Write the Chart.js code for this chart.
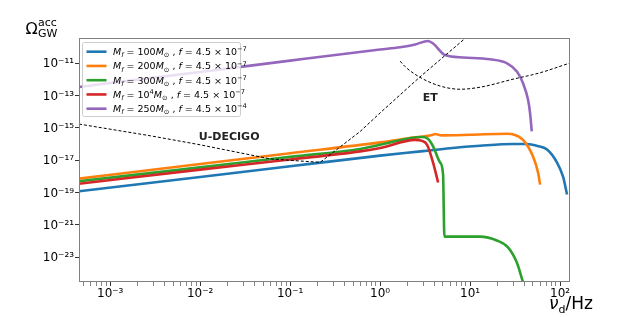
<!DOCTYPE html>
<html>
<head>
<meta charset="utf-8">
<script src="https://cdn.jsdelivr.net/npm/chart.js@4/dist/chart.umd.min.js"></script>
<style>
  html, body { margin: 0; padding: 0; background: #fff; }
  canvas { display: block; }
</style>
</head>
<body>
<canvas id="grafico" width="634" height="317"></canvas>
<script>
// Curvas (nu_d en Hz, Omega_GW^acc)
const nuAzul = [4.5e-4, 0.01, 0.1, 1, 3, 6.0, 12.9, 30, 43, 56, 71.7, 92.6, 108, 119.6];
const omegaAzul = [1.2e-19, 9.2e-19, 4.2e-18, 1.9e-17, 3.6e-17, 5.5e-17, 7.8e-17, 1.0e-16, 1.0e-16, 7.5e-17, 4.5e-17, 7.0e-18, 9.5e-19, 7.6e-20];

const nuNaranja = [4.5e-4, 0.01, 0.1, 1, 2, 3.88, 4.08, 4.85, 10, 25.6, 31.6, 38.8, 50.1, 57, 60];
const omegaNaranja = [7.2e-19, 5.8e-18, 2.7e-17, 1.26e-16, 2.2e-16, 3.7e-16, 4.1e-16, 3.4e-16, 3.7e-16, 4.3e-16, 3.6e-16, 1.8e-16, 1.7e-17, 1.7e-18, 3.1e-19];

const nuVerde = [4.5e-4, 0.01, 0.1, 0.6, 1, 2.9, 3.4, 3.88, 4.64, 5.01, 5.18, 12.9, 19.8, 26.4, 33, 38.8];
const omegaVerde = [5.0e-19, 3.6e-18, 1.6e-17, 4.9e-17, 8.9e-17, 2.7e-16, 2.1e-16, 7.1e-17, 7.1e-18, 1.3e-18, 1.9e-22, 1.9e-22, 1.1e-22, 4.1e-23, 4.9e-24, 2.9e-25];

const nuRojo = [4.5e-4, 0.01, 0.1, 0.6, 1, 2.45, 2.86, 3.33, 3.88, 4.41];
const omegaRojo = [3.5e-19, 2.6e-18, 1.1e-17, 3.5e-17, 5.6e-17, 1.8e-16, 1.6e-16, 8.9e-17, 7.1e-18, 4.2e-19];

const nuMorado = [4.5e-4, 1e-3, 0.01, 0.1, 1, 1.67, 2.45, 3.41, 3.88, 5.27, 8.36, 16.7, 25.8, 33.3, 38.8, 44.1, 46.4, 48.5];
const omegaMorado = [3.3e-13, 5.8e-13, 2.8e-12, 1.4e-11, 6.8e-11, 9.5e-11, 1.4e-10, 2.3e-10, 1.6e-10, 3.1e-11, 2.2e-11, 1.7e-11, 9.6e-12, 2.9e-12, 5.6e-13, 5.3e-14, 8.3e-15, 5.9e-16];

// Curvas de sensibilidad (líneas discontinuas)
const nuDecigo = [4.5e-4, 2.8e-3, 0.01, 0.06, 0.215, 0.6, 1, 2.78, 8.8];
const omegaDecigo = [1.7e-15, 3.2e-16, 8.9e-17, 1.2e-17, 7.3e-18, 5.9e-16, 8.3e-15, 1.4e-12, 3.3e-10];

const nuET = [1.67, 1.9, 2.78, 4.64, 7.74, 12.9, 30, 60, 129];
const omegaET = [1.3e-11, 5.9e-12, 1.3e-12, 3.8e-13, 2.4e-13, 3.2e-13, 1.0e-12, 2.5e-12, 1.0e-11];

// Leyenda
const masas = ["100", "200", "300", "10^4", "250"];
const frecuencias = ["4.5 × 10^-7", "4.5 × 10^-7", "4.5 × 10^-7", "4.5 × 10^-7", "4.5 × 10^-4"];
const colores = ["#1f77b4", "#ff7f0e", "#2ca02c", "#d62728", "#9467bd"];

// Marcas de los ejes
const ticksX = [1e-3, 1e-2, 1e-1, 1, 10, 100];
const ticksY = [1e-11, 1e-13, 1e-15, 1e-17, 1e-19, 1e-21, 1e-23];

// Etiquetas de texto sobre la gráfica
const etiquetas = [
    { texto: "U-DECIGO", x: 0.021, y: 2.8e-16 },
    { texto: "ET", x: 3.6, y: 7e-14 }
];

const SUP = { "-": "⁻", "0": "⁰", "1": "¹", "2": "²", "3": "³", "4": "⁴", "5": "⁵", "6": "⁶", "7": "⁷", "8": "⁸", "9": "⁹" };
function potencia(v) {
    const e = Math.round(Math.log10(v));
    return "10" + String(e).split("").map(c => SUP[c]).join("");
}

function puntos(xs, ys) {
    return xs.map((x, i) => ({ x: x, y: ys[i] }));
}

const series = [
    [nuAzul, omegaAzul], [nuNaranja, omegaNaranja], [nuVerde, omegaVerde],
    [nuRojo, omegaRojo], [nuMorado, omegaMorado]
];

const datasets = series.map((s, i) => ({
    data: puntos(s[0], s[1]),
    borderColor: colores[i],
    borderWidth: 2.6,
    pointRadius: 0,
    cubicInterpolationMode: "monotone",
    borderJoinStyle: "round",
    order: 10 - i
}));
datasets.push({
    data: puntos(nuDecigo, omegaDecigo),
    borderColor: "#000",
    borderWidth: 1,
    borderDash: [3, 2],
    pointRadius: 0,
    tension: 0,
    order: 2
});
datasets.push({
    data: puntos(nuET, omegaET),
    borderColor: "#000",
    borderWidth: 1,
    borderDash: [3, 2],
    pointRadius: 0,
    cubicInterpolationMode: "monotone",
    order: 1
});

// Dibuja texto con subíndices / superíndices
function textoMath(ctx, partes, x, y, tam) {
    partes.forEach(p => {
        const t = p.pos ? tam * 0.7 : tam;
        ctx.font = (p.it ? "italic " : "") + t + "px 'DejaVu Sans'";
        let dy = 0;
        if (p.pos === "sub") dy = tam * 0.25;
        if (p.pos === "sup") dy = -tam * 0.38;
        ctx.fillText(p.t, x, y + dy);
        x += ctx.measureText(p.t).width;
    });
    return x;
}

function partesLeyenda(i) {
    const m = masas[i].split("^");
    const f = frecuencias[i].split("^");
    const p = [{ t: "M", it: true }, { t: "f", it: true, pos: "sub" }, { t: " = " + m[0] }];
    if (m[1]) p.push({ t: m[1], pos: "sup" });
    p.push({ t: "M", it: true }, { t: "⊙", pos: "sub" }, { t: " , " }, { t: "f", it: true }, { t: " = " + f[0] });
    if (f[1]) p.push({ t: f[1].replace("-", "−"), pos: "sup" });
    return p;
}

const extras = {
    id: "extras",
    afterDraw(chart) {
        const ctx = chart.ctx;
        const a = chart.chartArea;
        const sx = chart.scales.x, sy = chart.scales.y;
        ctx.save();

        // marco
        ctx.strokeStyle = "#808080";
        ctx.lineWidth = 1;
        ctx.strokeRect(a.left + 0.5, a.top + 0.5, a.right - a.left - 1, a.bottom - a.top - 1);

        // etiquetas
        ctx.fillStyle = "#222";
        ctx.font = "bold 11px 'DejaVu Sans'";
        ctx.textAlign = "center";
        ctx.textBaseline = "middle";
        etiquetas.forEach(e => ctx.fillText(e.texto, sx.getPixelForValue(e.x), sy.getPixelForValue(e.y)));

        // leyenda
        const lx = a.left + 3.5, ly = a.top + 4.5, lw = 158, lh = 74;
        ctx.fillStyle = "rgba(255,255,255,0.8)";
        ctx.strokeStyle = "#cccccc";
        ctx.beginPath();
        ctx.roundRect(lx, ly, lw, lh, 2);
        ctx.fill();
        ctx.stroke();
        ctx.textAlign = "left";
        ctx.textBaseline = "alphabetic";
        colores.forEach((c, i) => {
            const yy = 51.7 + i * 14.25;
            ctx.strokeStyle = c;
            ctx.lineWidth = 2.6;
            ctx.beginPath();
            ctx.moveTo(86.5, yy);
            ctx.lineTo(106.5, yy);
            ctx.stroke();
            ctx.fillStyle = "#000";
            textoMath(ctx, partesLeyenda(i), 113, yy + 3.3, 9.5);
        });

        // títulos de los ejes
        ctx.fillStyle = "#000";
        ctx.font = "16px 'DejaVu Sans'";
        ctx.fillText("Ω", 25.5, 33.5);
        ctx.font = "11px 'DejaVu Sans'";
        ctx.fillText("acc", 38, 26);
        ctx.fillText("GW", 38, 37);

        ctx.font = "italic 17px 'DejaVu Sans'";
        ctx.fillText("ν", 549, 309);
        let w = ctx.measureText("ν").width;
        ctx.font = "11px 'DejaVu Sans'";
        ctx.fillText("d", 549 + w, 313);
        w += ctx.measureText("d").width;
        ctx.font = "17px 'DejaVu Sans'";
        ctx.fillText("/Hz", 549 + w, 309);
        ctx.restore();
    }
};

const esMayor = v => Math.abs(Math.log10(v) - Math.round(Math.log10(v))) < 1e-6;

new Chart(document.getElementById("grafico").getContext("2d"), {
    type: "line",
    data: { datasets: datasets },
    options: {
        responsive: false,
        animation: false,
        devicePixelRatio: 1,
        layout: { padding: { top: 38, right: 64, left: 0, bottom: 0 } },
        plugins: { legend: { display: false }, tooltip: { enabled: false } },
        scales: {
            x: {
                type: "logarithmic",
                min: 4.5e-4,
                max: 129,
                afterFit: s => { s.height = 35; },
                afterBuildTicks: s => {
                    const t = [];
                    for (let k = -4; k <= 2; k++) {
                        for (let m = 1; m <= 9; m++) {
                            const v = m * Math.pow(10, k);
                            if (v >= s.min && v <= s.max) t.push({ value: v });
                        }
                    }
                    s.ticks = t;
                },
                border: { display: false },
                grid: {
                    drawOnChartArea: false,
                    tickLength: 4,
                    tickColor: "#333",
                    tickWidth: c => (c.tick && esMayor(c.tick.value) ? 1 : 0.6)
                },
                ticks: {
                    autoSkip: false,
                    maxRotation: 0,
                    padding: 1,
                    color: "#000",
                    font: { family: "DejaVu Sans", size: 12 },
                    callback: v => (esMayor(v) && ticksX.some(t => Math.abs(t - v) / t < 1e-6) ? potencia(v) : "")
                }
            },
            y: {
                type: "logarithmic",
                min: 3.3e-25,
                max: 3.5e-10,
                afterFit: s => { s.width = 79; },
                afterBuildTicks: s => { s.ticks = ticksY.map(v => ({ value: v })); },
                border: { display: false },
                grid: { drawOnChartArea: false, tickLength: 4, tickColor: "#333" },
                ticks: {
                    padding: 1,
                    labelOffset: 1,
                    color: "#000",
                    font: { family: "DejaVu Sans", size: 12 },
                    callback: v => potencia(v)
                }
            }
        }
    },
    plugins: [extras]
});
</script>
</body>
</html>
